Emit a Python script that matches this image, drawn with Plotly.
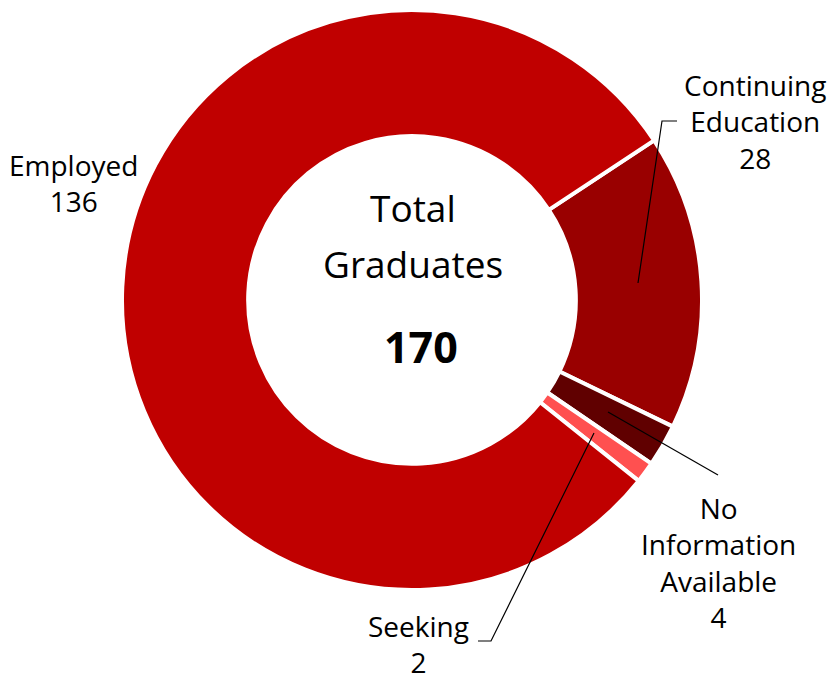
import plotly.graph_objects as go

# Data
categories = ["Continuing Education", "No Information Available", "Seeking", "Employed"]
label_lines = [["Continuing", "Education"], ["No", "Information", "Available"], ["Seeking"], ["Employed"]]
values = [28, 4, 2, 136]
colors = ["#990000", "#600000", "#FF5050", "#C00000"]
total_title = ["Total", "Graduates"]
total_value = sum(values)

W, H = 828, 677

def px(x, y):
    return x / W, 1 - y / H

fig = go.Figure()
fig.add_trace(go.Pie(
    labels=categories,
    values=values,
    hole=0.565,
    sort=False,
    direction="clockwise",
    rotation=56.6,
    marker=dict(colors=colors, line=dict(color="white", width=4)),
    textinfo="none",
    hoverinfo="label+value",
    showlegend=False,
    domain=dict(x=[122 / W, 702 / W], y=[1 - 590 / H, 1 - 10 / H]),
))

font = "Open Sans, sans-serif"
# Label positions (pixel centres) for each category
label_pos = [(755, 121), (718, 562), (418, 644), (73, 183)]
annotations = []
for lines, v, (lx, ly) in zip(label_lines, values, label_pos):
    x, y = px(lx, ly)
    annotations.append(dict(
        x=x, y=y, xref="paper", yref="paper", showarrow=False,
        text="<br>".join(lines + [str(v)]),
        font=dict(family=font, size=28, color="#000000"),
        xanchor="center", yanchor="middle", align="center",
    ))

for t, cy in zip(total_title, [208, 263]):
    x, y = px(413, cy)
    annotations.append(dict(x=x, y=y, xref="paper", yref="paper", showarrow=False,
                            text=t, font=dict(family=font, size=37, color="#000000"),
                            xanchor="center", yanchor="middle"))
x, y = px(421, 346)
annotations.append(dict(x=x, y=y, xref="paper", yref="paper", showarrow=False,
                        text="<b>%d</b>" % total_value,
                        font=dict(family=font, size=43, color="#000000"),
                        xanchor="center", yanchor="middle"))

# Leader lines
leaders = [
    [(638, 283), (662, 121), (677, 121)],
    [(608, 412), (718, 475)],
    [(594, 433), (491, 641), (478, 641)],
]
shapes = []
for pts in leaders:
    path = ""
    for i, (a, b) in enumerate(pts):
        xx, yy = px(a, b)
        path += ("M" if i == 0 else " L") + " %f %f" % (xx, yy)
    shapes.append(dict(type="path", xref="paper", yref="paper", path=path,
                       line=dict(color="black", width=1.2)))

fig.update_layout(
    width=W, height=H,
    margin=dict(l=0, r=0, t=0, b=0),
    paper_bgcolor="white", plot_bgcolor="white",
    annotations=annotations, shapes=shapes,
)
fig.write_html("out.html", config={"displayModeBar": False},
               post_script="document.body.style.margin='0';document.body.style.overflow='hidden';")
